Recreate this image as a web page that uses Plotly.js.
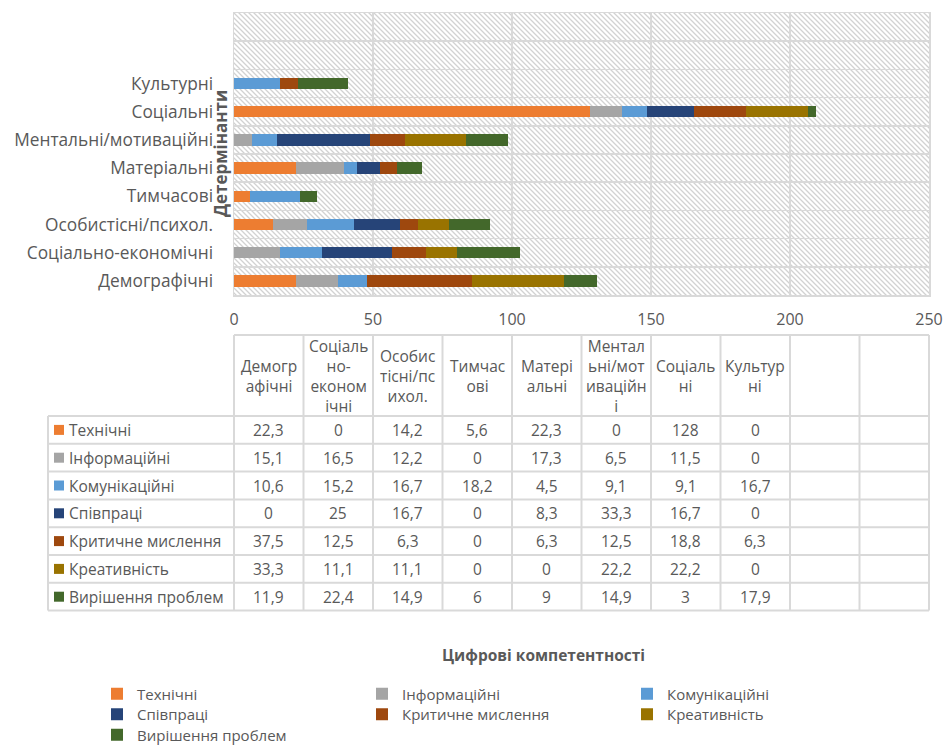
<!DOCTYPE html>
<html><head><meta charset="utf-8">
<script src="https://cdn.plot.ly/plotly-3.0.1.min.js"></script>
<style>html,body{margin:0;padding:0;background:#fff}#chart{width:947px;height:745px}</style>
</head><body><div id="chart"></div>
<script>
// ---------- data ----------
const categories = ['Демографічні','Соціально-економічні','Особистісні/психол.','Тимчасові','Матеріальні','Ментальні/мотиваційні','Соціальні','Культурні','',''];
const headerLabels = ['Демогр<br>афічні','Соціаль<br>но-<br>економ<br>ічні','Особис<br>тісні/пс<br>ихол.','Тимчас<br>ові','Матері<br>альні','Ментал<br>ьні/мот<br>иваційн<br>і','Соціаль<br>ні','Культур<br>ні','',''];
const seriesNames = ['Технічні','Інформаційні','Комунікаційні','Співпраці','Критичне мислення','Креативність','Вирішення проблем'];
const seriesColors = ['#ED7D31','#A5A5A5','#5B9BD5','#264478','#9E480E','#997300','#43682B'];
const technichni     = [22.3, 0,    14.2, 5.6,  22.3, 0,    128,  0];
const informatsiini  = [15.1, 16.5, 12.2, 0,    17.3, 6.5,  11.5, 0];
const komunikatsiini = [10.6, 15.2, 16.7, 18.2, 4.5,  9.1,  9.1,  16.7];
const spivpratsi     = [0,    25,   16.7, 0,    8.3,  33.3, 16.7, 0];
const krytychne      = [37.5, 12.5, 6.3,  0,    6.3,  12.5, 18.8, 6.3];
const kreatyvnist    = [33.3, 11.1, 11.1, 0,    0,    22.2, 22.2, 0];
const vyrishennia    = [11.9, 22.4, 14.9, 6,    9,    14.9, 3,    17.9];
const seriesValues = [technichni, informatsiini, komunikatsiini, spivpratsi, krytychne, kreatyvnist, vyrishennia];
const xTicks = [0, 50, 100, 150, 200, 250];
const xTitle = 'Цифрові компетентності';
const yTitle = 'Детермінанти';

// ---------- layout geometry ----------
const W = 947, H = 745, L = 234, R = 929, T = 13, B = 295;
const plotW = R - L, plotH = B - T;
const XMIN = 0, XMAX = 250;
const px = p => (p - L) / plotW;
const py = p => (B - p) / plotH;
const FONT = '"Open Sans", "DejaVu Sans", sans-serif';
const TXT = '#595959';
const GRID = '#d9d9d9';

const yIdx = categories.map((_, i) => i);
const legendIds = ['legend', 'legend', 'legend', 'legend2', 'legend2', 'legend2', 'legend3'];

const traces = seriesNames.map((name, s) => ({
  type: 'bar', orientation: 'h', name: name, legend: legendIds[s],
  x: seriesValues[s], y: seriesValues[s].map((_, i) => yIdx[i]),
  marker: {color: seriesColors[s], line: {width: 0}},
  hovertemplate: name + ': %{x}<extra></extra>'
}));

// hatch background
const hatchSvg = `<svg xmlns="http://www.w3.org/2000/svg" width="${plotW}" height="${plotH}"><defs><pattern id="h" patternUnits="userSpaceOnUse" width="5" height="5"><path d="M-1,-1 L6,6 M-1,4 L1,6 M4,-1 L6,1" stroke="#d2d2d2" stroke-width="1.3"/></pattern></defs><rect width="100%" height="100%" fill="#ffffff"/><rect width="100%" height="100%" fill="url(#h)"/></svg>`;
const hatchSrc = 'data:image/svg+xml;charset=utf-8,' + encodeURIComponent(hatchSvg);

// ---------- data table ----------
const nCols = categories.length;
const colW = (XMAX - XMIN) / nCols;
const colPaper = j => (j * colW) / (XMAX - XMIN);
const headTop = 335, headBot = 416, rowH = 27.8;
const labelLeft = 48;
const nRows = seriesNames.length;
const tableBot = headBot + nRows * rowH;
const shapes = [];
const annotations = [];
const line = (x0, y0, x1, y1) => shapes.push({type: 'line', xref: 'paper', yref: 'paper', x0, y0, x1, y1, line: {color: GRID, width: 2}});

line(0, py(headTop), 1, py(headTop));
for (let r = 0; r <= nRows; r++) line(px(labelLeft), py(headBot + r * rowH), 1, py(headBot + r * rowH));
for (let j = 0; j <= nCols; j++) line(colPaper(j), py(headTop), colPaper(j), py(tableBot));
line(px(labelLeft), py(headBot), px(labelLeft), py(tableBot));

const fmt = v => String(v).replace('.', ',');
headerLabels.forEach((h, j) => {
  if (!h) return;
  annotations.push({xref: 'x', yref: 'paper', x: (j + 0.5) * colW, y: py((headTop + headBot) / 2),
    text: h, showarrow: false, xanchor: 'center', yanchor: 'middle', align: 'center',
    font: {family: FONT, size: 15.5, color: TXT}});
});
seriesNames.forEach((name, r) => {
  const cy = headBot + (r + 0.5) * rowH;
  shapes.push({type: 'rect', xref: 'paper', yref: 'paper', x0: px(54), x1: px(64), y0: py(cy - 5), y1: py(cy + 5),
    fillcolor: seriesColors[r], line: {width: 0}});
  annotations.push({xref: 'paper', yref: 'paper', x: px(67), y: py(cy), text: name, showarrow: false,
    xanchor: 'left', yanchor: 'middle', font: {family: FONT, size: 15.5, color: TXT}});
  seriesValues[r].forEach((v, j) => {
    annotations.push({xref: 'x', yref: 'paper', x: (j + 0.5) * colW, y: py(cy), text: fmt(v), showarrow: false,
      xanchor: 'center', yanchor: 'middle', font: {family: FONT, size: 15.5, color: TXT}});
  });
});

// axis titles
annotations.push({xref: 'paper', yref: 'paper', x: px(220), y: 0.5, text: yTitle, textangle: -90, showarrow: false,
  xanchor: 'center', yanchor: 'middle', font: {family: FONT, size: 17, color: TXT, weight: 700}});
annotations.push({xref: 'paper', yref: 'paper', x: px(543), y: py(655), text: xTitle, showarrow: false,
  xanchor: 'center', yanchor: 'middle', font: {family: FONT, size: 15.5, color: TXT, weight: 700}});

const legendBase = y => ({orientation: 'h', x: px(97), xanchor: 'left', y: py(y), yanchor: 'middle',
  entrywidth: 220, entrywidthmode: 'pixels', traceorder: 'normal',
  font: {family: FONT, size: 15, color: TXT}, bgcolor: 'rgba(0,0,0,0)', borderwidth: 0});

const layout = {
  width: W, height: H,
  margin: {l: L, r: W - R, t: T, b: H - B, pad: 0, autoexpand: false},
  paper_bgcolor: '#ffffff', plot_bgcolor: '#ffffff',
  barmode: 'stack', bargap: 0.6,
  font: {family: FONT, color: TXT},
  xaxis: {range: [XMIN, XMAX], tickmode: 'array', tickvals: xTicks, ticktext: xTicks.map(String),
    showgrid: true, gridcolor: GRID, gridwidth: 1.5, zeroline: false,
    showline: true, mirror: true, linecolor: GRID, linewidth: 1.5, ticks: '',
    tickfont: {family: FONT, size: 16, color: TXT}, ticklabelstandoff: 9, fixedrange: true, automargin: false},
  yaxis: {range: [-0.5, categories.length - 0.5], tickmode: 'array', tickvals: yIdx, ticktext: categories,
    showgrid: false, zeroline: false,
    minor: {tickmode: 'linear', tick0: -0.5, dtick: 1, showgrid: true, gridcolor: GRID, gridwidth: 1.5, ticks: ''},
    showline: true, mirror: true, linecolor: GRID, linewidth: 1.5, ticks: '',
    tickfont: {family: FONT, size: 17.3, color: TXT}, ticklabelstandoff: 16, fixedrange: true, automargin: false},
  images: [{source: hatchSrc, xref: 'x', yref: 'y', x: XMIN, y: categories.length - 0.5,
    sizex: XMAX - XMIN, sizey: categories.length, xanchor: 'left', yanchor: 'top', sizing: 'stretch', layer: 'below'}],
  shapes: shapes,
  annotations: annotations,
  showlegend: true,
  legend: legendBase(694),
  legend2: legendBase(714.5),
  legend3: legendBase(735)
};

Plotly.newPlot('chart', traces, layout, {displayModeBar: false, staticPlot: true});
</script>
</body></html>
